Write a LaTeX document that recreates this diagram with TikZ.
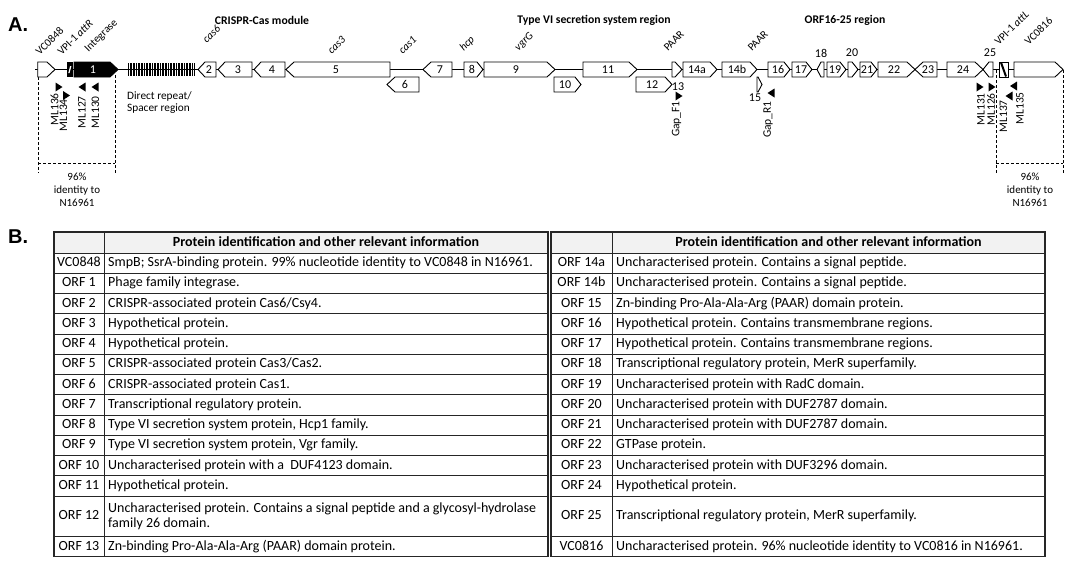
\documentclass[tikz,border=0pt]{standalone}
\usepackage{fontspec}
\setmainfont{Carlito}
\newfontfamily\arialf{Liberation Sans}
\newcommand\geneR[5][white]{\draw[gene, fill=#1] (#2,#4-7.5) -- (#3-#5,#4-7.5) -- (#3,#4) -- (#3-#5,#4+7.5) -- (#2,#4+7.5) -- cycle;}
\newcommand\geneL[5][white]{\draw[gene, fill=#1] (#2,#4) -- (#2+#5,#4-7.5) -- (#3,#4-7.5) -- (#3,#4+7.5) -- (#2+#5,#4+7.5) -- cycle;}
\newcommand\prR[2]{\fill (#1-3.5,#2-4.5) -- (#1+3.5,#2) -- (#1-3.5,#2+4.5) -- cycle;}
\newcommand\prL[2]{\fill (#1+3.5,#2-4.5) -- (#1-3.5,#2) -- (#1+3.5,#2+4.5) -- cycle;}
\newcommand\tabrow[6]{\node[cell] (#1a) at (#2,#4) {#5}; \node[cell, anchor=west] (#1b) at (#3,#4) {#6};}
\begin{document}
\begin{tikzpicture}[x=1pt,y=-1pt,
 gene/.style={draw=black, line width=0.9pt, line join=miter},
 gnum/.style={font=\fontsize{12}{13}\selectfont, inner sep=0},
 glbl/.style={rotate=45, anchor=south west, inner sep=0, font=\fontsize{11}{12}\selectfont},
 plbl/.style={rotate=90, anchor=east, inner sep=0, font=\fontsize{11.5}{12}\selectfont},
 rtitle/.style={font=\bfseries\fontsize{11.7}{13}\selectfont, inner sep=0},
 dsh/.style={line width=0.8pt, dash pattern=on 3pt off 2pt},
 cell/.style={font=\fontsize{14}{14.5}\selectfont, inner sep=0, text height=10, text depth=3},
 hcell/.style={font=\bfseries\fontsize{14}{14.5}\selectfont, inner sep=0, text height=10, text depth=3},
 tline/.style={line width=0.7pt, draw=black!85},
 tframe/.style={line width=1.1pt, draw=black!85},
 small/.style={font=\fontsize{11}{13}\selectfont, inner sep=0, align=center},
 panel/.style={font=\arialf\bfseries\fontsize{20}{22}\selectfont, inner sep=0, anchor=west}]
\useasboundingbox (0,0) rectangle (1068,568);
% panel labels
\node[panel] (A) at (8,25) {A.};
\node[panel] (B) at (8,237) {B.};
% region titles
\node[rtitle] (t1) at (262,20) {CRISPR-Cas module};
\node[rtitle] (t2) at (594,20) {Type VI secretion system region};
\node[rtitle] (t3) at (845,20) {ORF16-25 region};
% backbone
\draw[line width=0.9pt] (35,69.5) -- (1014,69.5);
% dashed identity boxes
\draw[dsh] (38,77) -- (38,173);
\draw[dsh] (115,75) -- (115,173);
\draw[dsh] (38,163) -- (115,163);
\draw[dsh] (996,70) -- (996,173);
\draw[dsh] (1063,70) -- (1063,173);
\draw[dsh] (996,163) -- (1063,163);
\node[small] (id1) at (77,190) {96\%\\identity to\\N16961};
\node[small] (id2) at (1030,190) {96\%\\identity to\\N16961};
% genes
\geneR{37.7}{55}{69.5}{8}
\fill (66.5,62) rectangle (73,77);
\fill[white] (68.3,73) -- (69.6,73) -- (71.4,66) -- (70.1,66) -- cycle;
\geneR[black]{74}{118}{69.5}{8}
\node[gnum, text=white] (g1) at (93,69.5) {1};
\foreach \k in {0,...,41} {\draw[line width=0.9pt] (128.5+\k*1.6,63) -- (128.5+\k*1.6,76);}
\node[small, align=left, anchor=north west, font=\fontsize{11.3}{12}\selectfont] (dr) at (127,91) {Direct repeat/\\Spacer region};
\geneL{198}{216}{69.5}{7} \node[gnum] (g2) at (209,69.5) {2};
\geneL{218}{252}{69.5}{7} \node[gnum] (g3) at (238,69.5) {3};
\geneL{254}{285}{69.5}{7} \node[gnum] (g4) at (272,69.5) {4};
\geneL{286}{390}{69.5}{8} \node[gnum] (g5) at (336,69.5) {5};
\geneL{387}{419}{84.5}{8} \node[gnum] (g6) at (405,84.5) {6};
\geneL{423}{452}{69.5}{8} \node[gnum] (g7) at (440,69.5) {7};
\geneR{464}{483}{69.5}{6} \node[gnum] (g8) at (472,69.5) {8};
\geneR{484}{555}{69.5}{8} \node[gnum] (g9) at (516,69.5) {9};
\geneR{554}{581}{84.5}{6} \node[gnum] (g10) at (565,84.5) {10};
\geneR{583}{637}{69.5}{8} \node[gnum] (g11) at (608,69.5) {11};
\geneR{636}{672}{84.5}{7} \node[gnum] (g12) at (652,84.5) {12};
\geneR{672}{682}{69.5}{7}
\node[gnum] (g13) at (678,87) {13};
\geneR{683}{717}{69.5}{7} \node[gnum] (g14a) at (697,69.5) {14a};
\geneR{722}{757}{69.5}{7} \node[gnum] (g14b) at (737,69.5) {14b};
\geneR{757}{762}{84.5}{4}
\node[gnum] (g15) at (755,98) {15};
\geneR{768}{790}{69.5}{6} \node[gnum] (g16) at (778,69.5) {16};
\geneR{792}{812}{69.5}{6} \node[gnum] (g17) at (801,69.5) {17};
\geneL{817}{824}{69.5}{4}
\node[gnum] (g18) at (821,53) {18};
\geneR{827}{846}{69.5}{6} \node[gnum] (g19) at (835,69.5) {19};
\geneR{848}{858}{69.5}{6}
\node[gnum] (g20) at (852,53) {20};
\geneR{860}{877}{69.5}{6} \node[gnum] (g21) at (867,69.5) {21};
\geneR{878}{915}{69.5}{8} \node[gnum] (g22) at (894,69.5) {22};
\geneL{915}{937}{69.5}{8} \node[gnum] (g23) at (928,69.5) {23};
\geneR{947}{983}{69.5}{8} \node[gnum] (g24) at (963,69.5) {24};
\geneL{983}{993}{69.5}{6}
\node[gnum] (g25) at (990,53) {25};
\draw[gene, fill=white] (999,62) rectangle (1008,77);
\draw[line width=2pt] (1001,62.5) -- (1006,76.5);
\geneR{1014}{1063}{69.5}{8}
% gene name labels
\node[glbl] (lVC0848) at (40,56) {VC0848};
\node[glbl] (lattR) at (62,56) {VPI-1 \textit{attR}};
\node[glbl] (lint) at (90,54) {Integrase};
\node[glbl] (lcas6) at (207,44) {\textit{cas6}};
\node[glbl] (lcas3) at (332,55) {\textit{cas3}};
\node[glbl] (lcas1) at (403,55) {\textit{cas1}};
\node[glbl] (lhcp) at (465,53) {\textit{hcp}};
\node[glbl] (lvgrG) at (520,53) {\textit{vgrG}};
\node[glbl] (lPAAR1) at (668,52) {PAAR};
\node[glbl] (lPAAR2) at (752,52) {PAAR};
\node[glbl] (lattL) at (999,46) {VPI-1 \textit{attL}};
\node[glbl] (lVC0816) at (1029,46) {VC0816};
% primers
\prR{59}{87} \node[plbl] (p136) at (54.5,93) {ML136};
\prR{66.5}{95.5} \node[plbl] (p134) at (63.5,99) {ML134};
\prL{82}{87} \node[plbl] (p127) at (82,96) {ML127};
\prL{95}{87} \node[plbl] (p130) at (95.5,96) {ML130};
\prR{980}{87} \node[plbl] (p131) at (981,93) {ML131};
\prR{992}{87} \node[plbl] (p126) at (991,93) {ML126};
\prL{1009}{96} \node[plbl] (p137) at (1003.5,100) {ML137};
\prL{1013.5}{86} \node[plbl] (p135) at (1020,92) {ML135};
\prR{679}{96} \node[plbl] (pF1) at (676.5,101) {Gap\_F1};
\prL{771}{93} \node[plbl] (pR1) at (768,101) {Gap\_R1};
% ===== tables =====
\fill[black!5] (54,232) rectangle (548,253);
\fill[black!5] (551,232) rectangle (1045,253);
\foreach \i in {0,...,12} {
  \draw[tline] (54,253+\i*20.25) -- (548,253+\i*20.25);
  \draw[tline] (551,253+\i*20.25) -- (1045,253+\i*20.25);}
\draw[tline] (54,536.5) -- (548,536.5);
\draw[tline] (551,536.5) -- (1045,536.5);
\draw[tline] (104,232) -- (104,556.75);
\draw[tline] (612,232) -- (612,556.75);
\draw[tframe] (54,232) rectangle (548,556.75);
\draw[tframe] (551,232) rectangle (1045,556.75);
\node[hcell] (hL) at (326,242.5) {Protein identification and other relevant information};
\node[hcell] (hR) at (828.5,242.5) {Protein identification and other relevant information};
\tabrow{r0}{79}{108}{263.1}{VC0848}{SmpB; SsrA-binding protein. 99\% nucleotide identity to VC0848 in N16961.}
\tabrow{r1}{79}{108}{283.4}{ORF 1}{Phage family integrase.}
\tabrow{r2}{79}{108}{303.6}{ORF 2}{CRISPR-associated protein Cas6/Csy4.}
\tabrow{r3}{79}{108}{323.9}{ORF 3}{Hypothetical protein.}
\tabrow{r4}{79}{108}{344.1}{ORF 4}{Hypothetical protein.}
\tabrow{r5}{79}{108}{364.4}{ORF 5}{CRISPR-associated protein Cas3/Cas2.}
\tabrow{r6}{79}{108}{384.6}{ORF 6}{CRISPR-associated protein Cas1.}
\tabrow{r7}{79}{108}{404.9}{ORF 7}{Transcriptional regulatory protein.}
\tabrow{r8}{79}{108}{425.1}{ORF 8}{Type VI secretion system protein, Hcp1 family.}
\tabrow{r9}{79}{108}{445.4}{ORF 9}{Type VI secretion system protein, Vgr family.}
\tabrow{r10}{79}{108}{465.6}{ORF 10}{Uncharacterised protein with a\ \ DUF4123 domain.}
\tabrow{r11}{79}{108}{485.9}{ORF 11}{Hypothetical protein.}
\node[cell] (r12a) at (79,516.25) {ORF 12};
\node[cell, text height=, text depth=, align=left, anchor=west] (r12b) at (108,516.25) {Uncharacterised protein. Contains a signal peptide and a glycosyl-hydrolase\\family 26 domain.};
\tabrow{r13}{79}{108}{546.6}{ORF 13}{Zn-binding Pro-Ala-Ala-Arg (PAAR) domain protein.}
\tabrow{s0}{581.5}{616}{263.1}{ORF 14a}{Uncharacterised protein. Contains a signal peptide.}
\tabrow{s1}{581.5}{616}{283.4}{ORF 14b}{Uncharacterised protein. Contains a signal peptide.}
\tabrow{s2}{581.5}{616}{303.6}{ORF 15}{Zn-binding Pro-Ala-Ala-Arg (PAAR) domain protein.}
\tabrow{s3}{581.5}{616}{323.9}{ORF 16}{Hypothetical protein. Contains transmembrane regions.}
\tabrow{s4}{581.5}{616}{344.1}{ORF 17}{Hypothetical protein. Contains transmembrane regions.}
\tabrow{s5}{581.5}{616}{364.4}{ORF 18}{Transcriptional regulatory protein, MerR superfamily.}
\tabrow{s6}{581.5}{616}{384.6}{ORF 19}{Uncharacterised protein with RadC domain.}
\tabrow{s7}{581.5}{616}{404.9}{ORF 20}{Uncharacterised protein with DUF2787 domain.}
\tabrow{s8}{581.5}{616}{425.1}{ORF 21}{Uncharacterised protein with DUF2787 domain.}
\tabrow{s9}{581.5}{616}{445.4}{ORF 22}{GTPase protein.}
\tabrow{s10}{581.5}{616}{465.6}{ORF 23}{Uncharacterised protein with DUF3296 domain.}
\tabrow{s11}{581.5}{616}{485.9}{ORF 24}{Hypothetical protein.}
\tabrow{s12}{581.5}{616}{516.25}{ORF 25}{Transcriptional regulatory protein, MerR superfamily.}
\tabrow{s13}{581.5}{616}{546.6}{VC0816}{Uncharacterised protein. 96\% nucleotide identity to VC0816 in N16961.}
\end{tikzpicture}
\end{document}
